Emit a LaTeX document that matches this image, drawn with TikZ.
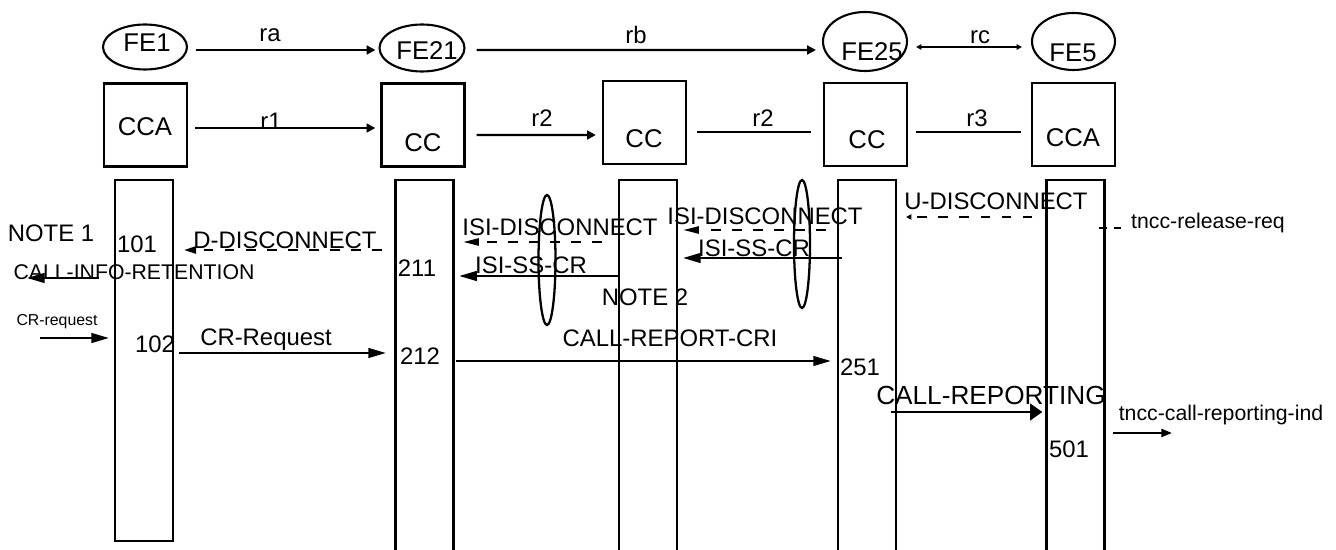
\documentclass[tikz,border=0pt]{standalone}
\usepackage{fontspec}
\setmainfont{Liberation Sans}
\usetikzlibrary{arrows.meta,calc,shapes.geometric}
\newcommand\fsMain{\fontsize{13.6pt}{15pt}\selectfont}
\newcommand\fsEnt{\fontsize{14.6pt}{16pt}\selectfont}
\newcommand\fsBig{\fontsize{14.9pt}{17pt}\selectfont}
\newcommand\fsMid{\fontsize{12.1pt}{14pt}\selectfont}
\newcommand\fsSmall{\fontsize{9pt}{10pt}\selectfont}
\begin{document}
\begin{tikzpicture}[x=0.02cm,y=-0.02cm,
  every node/.style={font=\fsMain},
  fe/.style={draw, ellipse, line width=1.2pt, inner sep=0},
  box/.style={draw, line width=1.3pt, minimum width=1.66cm, minimum height=1.66cm, inner sep=0},
  life/.style={draw, line width=1.3pt, minimum width=1.16cm, inner sep=0},
  oval/.style={draw, ellipse, line width=1.3pt, inner sep=0},
  txt/.style={inner sep=0},
  ent/.style={inner sep=0, font=\fsEnt},
  msg/.style={line width=1.3pt},
  hd/.style={-{Triangle[length=10pt,width=5.5pt]}},
  hdsmall/.style={-{Triangle[length=5pt,width=5pt]}},
  dsh/.style={dash pattern=on 5.5pt off 6.5pt}
]
\useasboundingbox (0,0) rectangle (1336,550);

% top row: functional entities
\node[fe, minimum width=1.68cm, minimum height=0.9cm] (fe1) at (145,47) {};
\node[ent] at (147,43) {FE1};
\node[fe, minimum width=1.7cm, minimum height=0.94cm] (fe21) at (422,48) {};
\node[ent] at (427,51) {FE21};
\node[fe, minimum width=1.68cm, minimum height=1.18cm] (fe25) at (865,41.5) {};
\node[ent] at (872,52) {FE25};
\node[fe, minimum width=1.66cm, minimum height=1.14cm] (fe5) at (1073.5,41.5) {};
\node[ent] at (1073,53) {FE5};

\draw[msg, hdsmall] ($(fe1.east)+(8,3)$) -- ($(fe21.west)+(-3,2)$);
\node[txt] at (270,35) {ra};
\draw[msg, hdsmall] ($(fe21.east)+(11,2)$) -- ($(fe25.west)+(-6,8.5)$);
\node[txt] at (636,35) {rb};
\draw[line width=0.9pt, {Triangle[length=3pt,width=3pt]}-{Triangle[length=3pt,width=3pt]}] ($(fe25.east)+(8,5.5)$) -- ($(fe5.west)+(-9,5.5)$);
\node[txt] at (980,37) {rc};

% second row: boxes
\node[box] (cca1) at (145.5,125) {};
\node[ent] at (145,127) {CCA};
\node[box] (cc2) at (423,125) {};
\node[ent] at (423,143) {CC};
\node[box] (cc3) at (644.5,122.5) {};
\node[ent] at (644,139) {CC};
\node[box] (cc4) at (865.5,124.5) {};
\node[ent] at (867,140) {CC};
\node[box] (cca5) at (1073.5,124.5) {};
\node[ent] at (1073,138) {CCA};

\draw[msg, hdsmall] ($(cca1.east)+(7,3)$) -- ($(cc2.west)+(-5,3)$);
\node[txt] at (271,121) {r1};
\draw[msg, hdsmall] ($(cc2.east)+(11,10)$) -- ($(cc3.west)+(-6,12.5)$);
\node[txt] at (542,118) {r2};
\draw[msg] ($(cc3.east)+(10,9.5)$) -- ($(cc4.west)+(-12,7.5)$);
\node[txt] at (763,118) {r2};
\draw[msg] ($(cc4.east)+(8,7.5)$) -- ($(cca5.west)+(-10,7.5)$);
\node[txt] at (977,118) {r3};

% lifelines
\node[life, minimum height=7.22cm] (l1) at (144,360.5) {};
\node[life, minimum height=7.6cm] (l2) at (424.5,370) {};
\node[life, minimum height=7.6cm] (l3) at (648,370) {};
\node[life, minimum height=7.6cm] (l4) at (867,370) {};
\node[life, minimum height=7.6cm] (l5) at (1075.5,370) {};

% grouping ovals
\node[oval, minimum width=0.34cm, minimum height=2.6cm] (ov1) at (547,260) {};
\node[oval, minimum width=0.32cm, minimum height=2.56cm] (ov2) at (802,244) {};

% free ends
\coordinate (ciEnd) at (27,278);
\coordinate (crStart) at (40,338);
\coordinate (tcEnd) at (1172,433);
\coordinate (trEnd) at (1125,228);

% messages
\draw[msg, dsh, -{Triangle[length=7pt,width=4pt]}, shorten <=7pt, shorten >=5.5pt] (l2.west|-0,250) -- (l1.east|-0,250);
\draw[msg, hd, shorten <=8.5pt] (l1.west|-0,278) -- (ciEnd);
\draw[msg, hd, shorten >=2.8pt] (crStart) -- (l1.west|-0,338);
\draw[msg, hd, shorten <=2.8pt, shorten >=4.8pt] (l1.east|-0,353) -- (l2.west|-0,353);
\draw[msg, dsh, -{Triangle[length=9pt,width=4pt]}, shorten <=9pt, shorten >=4.8pt] (l3.west|-0,242) -- (l2.east|-0,242);
\draw[msg, hd, shorten >=2.6pt] (l3.west|-0,276) -- (l2.east|-0,276);
\draw[msg, dsh, -{Triangle[length=9pt,width=4pt]}, shorten <=6.2pt, shorten >=2.8pt] (l4.west|-0,230) -- (l3.east|-0,230);
\draw[msg, hd, shorten <=-2.8pt, shorten >=2.8pt] (l4.west|-0,258) -- (l3.east|-0,258);
\draw[msg, hd, shorten <=0.8pt, shorten >=3.4pt] (l2.east|-0,361) -- (l4.west|-0,361);
\draw[msg, -{Triangle[length=7pt,width=9.5pt]}, shorten <=-3.4pt, shorten >=1.7pt] (l4.east|-0,412) -- (l5.west|-0,412);
\draw[msg, -{Triangle[length=6pt,width=4.5pt]}, shorten <=4pt] (l5.east|-0,433) -- (tcEnd);
\draw[msg, dsh, -{Triangle[length=3pt,width=3pt]}, shorten <=7.4pt, shorten >=5.1pt] (l5.west|-0,217) -- (l4.east|-0,217);
\draw[line width=0.6pt, dash pattern=on 4.5pt off 4pt, shorten <=-4pt] (l5.east|-0,228) -- (trEnd);

% labels
\node[txt] at (51,233) {NOTE 1};
\node[txt] at (137,244) {101};
\node[txt] at (285,240) {D-DISCONNECT};
\node[txt] at (417,268) {211};
\node[txt, font=\fsMid] at (134,272) {CALL-INFO-RETENTION};
\node[txt, font=\fsSmall] at (57,322) {CR-request};
\node[txt] at (155,344) {102};
\node[txt] at (266,340) {CR-Request};
\node[txt] at (420,356) {212};
\node[txt] at (560,227) {ISI-DISCONNECT};
\node[txt] at (531,265) {ISI-SS-CR};
\node[txt] at (645,297) {NOTE 2};
\node[txt] at (765,216) {ISI-DISCONNECT};
\node[txt] at (754,248) {ISI-SS-CR};
\node[txt] at (670,338) {CALL-REPORT-CRI};
\node[txt] at (860,367) {251};
\node[txt, font=\fsBig] at (991,395) {CALL-REPORTING};
\node[txt, font=\fsMid] at (1221,415) {tncc-call-reporting-ind};
\node[txt] at (1069,449) {501};
\node[txt] at (996,201) {U-DISCONNECT};
\node[txt, font=\fsMid] at (1208,223) {tncc-release-req};
\end{tikzpicture}
\end{document}
